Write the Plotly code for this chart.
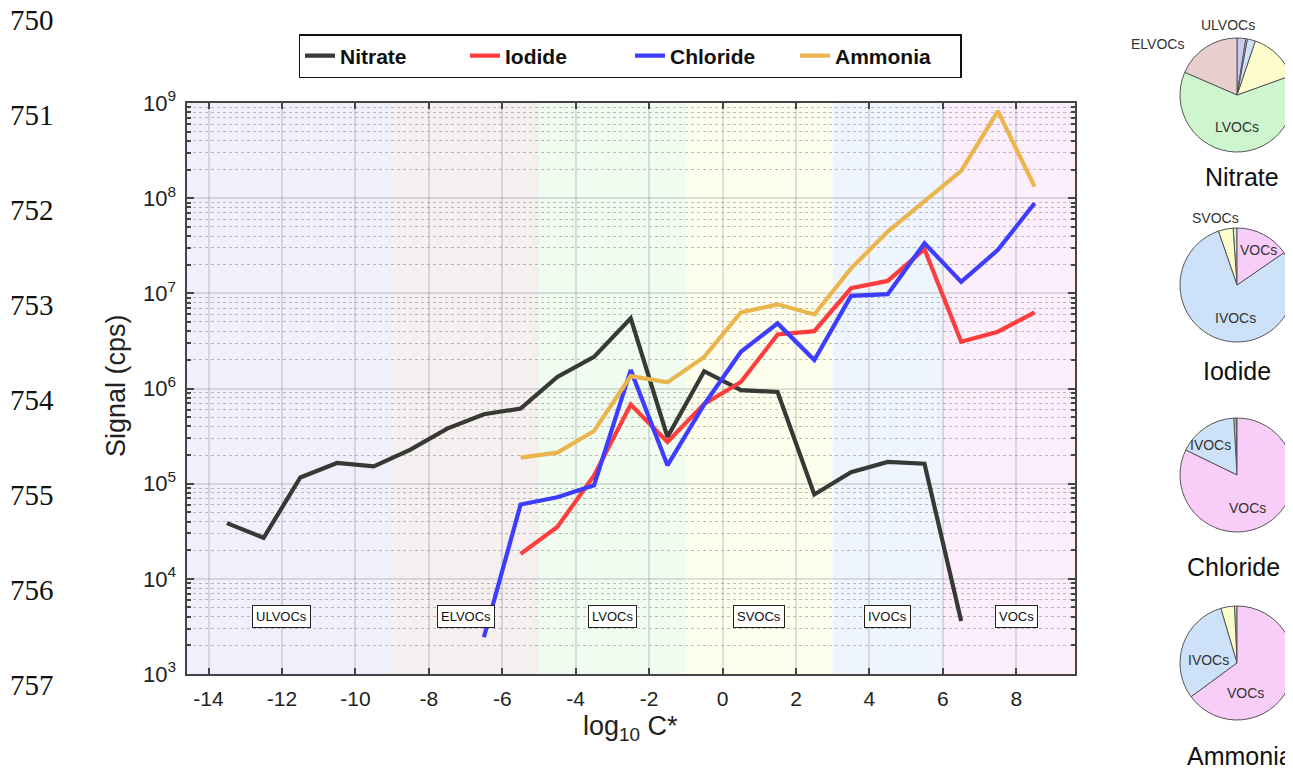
import math
import plotly.graph_objects as go

W, H = 1293, 769
OX, OY = 8, 8  # page body offset of the rendered figure


def sx(px):
    return (px - OX) / W


def sy(py):
    return 1 - (py - OY) / H


# ---------------- data ----------------
nitrate_x = [-13.5, -12.5, -11.5, -10.5, -9.5, -8.5, -7.5, -6.5, -5.5, -4.5, -3.5, -2.5, -1.5,
             -0.5, 0.5, 1.5, 2.5, 3.5, 4.5, 5.5, 6.5]
nitrate_y = [3.85e4, 2.7e4, 1.16e5, 1.65e5, 1.52e5, 2.28e5, 3.79e5, 5.36e5, 6.15e5, 1.32e6,
             2.15e6, 5.46e6, 3.1e5, 1.52e6, 9.6e5, 9.2e5, 7.7e4, 1.32e5, 1.69e5, 1.62e5, 3.6e3]

iodide_x = [-5.5, -4.5, -3.5, -2.5, -1.5, -0.5, 0.5, 1.5, 2.5, 3.5, 4.5, 5.5, 6.5, 7.5, 8.5]
iodide_y = [1.83e4, 3.5e4, 1.22e5, 6.8e5, 2.74e5, 6.9e5, 1.17e6, 3.7e6, 4.0e6, 1.13e7,
            1.35e7, 2.92e7, 3.1e6, 3.95e6, 6.3e6]

chloride_x = [-6.5, -5.5, -4.5, -3.5, -2.5, -1.5, -0.5, 0.5, 1.5, 2.5, 3.5, 4.5, 5.5, 6.5, 7.5, 8.5]
chloride_y = [2.43e3, 6.05e4, 7.2e4, 9.6e4, 1.56e6, 1.56e5, 6.8e5, 2.43e6, 4.83e6, 1.99e6,
              9.4e6, 9.8e6, 3.36e7, 1.32e7, 2.86e7, 8.85e7]

ammonia_x = [-5.5, -4.5, -3.5, -2.5, -1.5, -0.5, 0.5, 1.5, 2.5, 3.5, 4.5, 5.5, 6.5, 7.5, 8.5]
ammonia_y = [1.88e5, 2.12e5, 3.58e5, 1.35e6, 1.16e6, 2.15e6, 6.3e6, 7.66e6, 6.0e6, 1.83e7,
             4.45e7, 9.2e7, 1.94e8, 8.2e8, 1.32e8]

series_names = ["Nitrate", "Iodide", "Chloride", "Ammonia"]
series_colors = ["#373935", "#ff3d3d", "#3d3dff", "#ebb54e"]

# volatility classes
class_names = ["ULVOCs", "ELVOCs", "LVOCs", "SVOCs", "IVOCs", "VOCs"]
class_bounds = [-14.6, -9, -5, -1, 3, 6, 9.6]
class_label_x = [-12, -7, -3, 1, 4.5, 8]
class_label_y = 4000
class_bg = ["#f0f0fd", "#f5eff0", "#effcef", "#fefeed", "#eff5fd", "#fdeefc"]
class_pie_colors = ["#c8c8f3", "#e8cfcd", "#cef6ce", "#fcfccc", "#cde2f9", "#f8cdf8"]

# pie fractions (percent) per reagent ion, order = class_names
pie_nitrate = [2.5, 18.5, 62.0, 14.3, 2.3, 0.4]
pie_iodide = [0.0, 0.0, 1.1, 4.2, 79.3, 15.4]
pie_chloride = [0.0, 0.0, 0.3, 0.6, 16.9, 82.2]
pie_ammonia = [0.0, 0.0, 0.7, 3.9, 30.5, 64.9]

x_ticks = [-14, -12, -10, -8, -6, -4, -2, 0, 2, 4, 6, 8]
x_ticktext = [str(v) for v in x_ticks]
y_ticks = [1e3, 1e4, 1e5, 1e6, 1e7, 1e8, 1e9]
y_ticktext = ["10<sup>%d</sup>" % e for e in range(3, 10)]

line_numbers = ["750", "751", "752", "753", "754", "755", "756", "757", "758"]

# ---------------- figure ----------------
fig = go.Figure()

for name, xs, ys, col in zip(series_names,
                             [nitrate_x, iodide_x, chloride_x, ammonia_x],
                             [nitrate_y, iodide_y, chloride_y, ammonia_y],
                             series_colors):
    fig.add_trace(go.Scatter(x=xs, y=ys, mode="lines", name=name,
                             line=dict(color=col, width=4.2), hoverinfo="skip"))

# pies
pie_centers = [(1237, 95), (1237, 285), (1237, 475), (1237, 663)]
pie_r = 57
for vals, (cx, cy) in zip([pie_nitrate, pie_iodide, pie_chloride, pie_ammonia], pie_centers):
    fig.add_trace(go.Pie(
        values=vals, labels=class_names, sort=False, direction="counterclockwise",
        rotation=0, textinfo="none", hoverinfo="skip", showlegend=False,
        marker=dict(colors=class_pie_colors, line=dict(color="#555555", width=1)),
        domain=dict(x=[sx(cx - pie_r), min(1.0, sx(cx + pie_r))],
                    y=[sy(cy + pie_r), sy(cy - pie_r)])))

shapes = []
for i in range(len(class_names)):
    shapes.append(dict(type="rect", xref="x", yref="y domain",
                       x0=class_bounds[i], x1=class_bounds[i + 1], y0=0, y1=1,
                       fillcolor=class_bg[i], line=dict(width=0), layer="below"))

annotations = []


def pap(text, px, py, size, color="#222", family="Liberation Sans", **kw):
    return dict(x=sx(px), y=sy(py), xref="paper", yref="paper", text=text,
                showarrow=False, xanchor="center", yanchor="middle",
                font=dict(size=size, color=color, family=family), **kw)


for name, lx in zip(class_names, class_label_x):
    annotations.append(dict(x=lx, y=math.log10(class_label_y), xref="x", yref="y",
                            text=name, showarrow=False, xanchor="center", yanchor="middle",
                            font=dict(size=13, color="#111", family="Liberation Sans"),
                            bgcolor="white", bordercolor="#222", borderwidth=1, borderpad=3))

# axis titles
annotations.append(pap("Signal (cps)", 116, 386, 27, textangle=-90))
annotations.append(pap("log<sub>10</sub> C*", 630, 728, 27))

# pie labels
pie_labels = [("ULVOCs", 1228, 25), ("ELVOCs", 1157, 44), ("LVOCs", 1237, 127),
              ("SVOCs", 1215, 218), ("VOCs", 1258, 250), ("IVOCs", 1235, 318),
              ("IVOCs", 1210, 445), ("VOCs", 1247, 508),
              ("IVOCs", 1208, 660), ("VOCs", 1245, 693)]
for t, px, py in pie_labels:
    annotations.append(pap(t, px, py, 14, color="#333"))

pie_titles = [("Nitrate", 1242, 177), ("Iodide", 1237, 371), ("Chloride", 1233, 567),
              ("Ammonia", 1240, 756)]
for t, px, py in pie_titles:
    annotations.append(pap(t, px, py, 25, color="#111"))

# manuscript line numbers
for i, t in enumerate(line_numbers):
    annotations.append(pap(t, 32, 20 + 95 * i, 29, color="#111", family="Liberation Serif"))

minor_vals = [m * 10 ** e for e in range(3, 9) for m in range(2, 10)]

fig.update_layout(
    template="none",
    width=W, height=H, margin=dict(l=0, r=0, t=0, b=0, pad=0), autosize=False,
    paper_bgcolor="white", plot_bgcolor="white",
    font=dict(family="Liberation Sans", color="#222"),
    shapes=shapes, annotations=annotations,
    legend=dict(orientation="h", x=sx(630), xanchor="center", y=sy(34), yanchor="top",
                bordercolor="#111", borderwidth=1.5, bgcolor="white",
                font=dict(size=21, color="#111", family="Liberation Sans", weight="bold"),
                entrywidth=120, entrywidthmode="pixels", tracegroupgap=0),
    xaxis=dict(domain=[sx(186.5), sx(1075)], range=[-14.6, 9.6],
               tickmode="array", tickvals=x_ticks, ticktext=x_ticktext,
               ticks="inside", ticklen=6, tickwidth=1.5, tickcolor="#444",
               ticklabelstandoff=5, automargin=False,
               showline=True, linewidth=2, linecolor="#444", mirror="ticks",
               showgrid=True, gridcolor="rgba(70,70,90,0.17)", gridwidth=1.5,
               zeroline=False, tickfont=dict(size=21, color="#222")),
    yaxis=dict(domain=[sy(674), sy(103)], type="log", range=[3, 9],
               tickmode="array", tickvals=y_ticks, ticktext=y_ticktext, automargin=False,
               ticks="inside", ticklen=7, tickwidth=1.5, tickcolor="#444",
               ticklabelstandoff=4,
               showline=True, linewidth=2, linecolor="#444", mirror="ticks",
               showgrid=True, gridcolor="rgba(70,70,90,0.17)", gridwidth=1.5,
               zeroline=False, tickfont=dict(size=22, color="#222"),
               minor=dict(tickmode="array", tickvals=minor_vals, ticks="inside", ticklen=4,
                          tickcolor="#444", showgrid=True, griddash="dot",
                          gridcolor="rgba(90,90,90,0.38)", gridwidth=1)),
)

fig.write_html("out.html")
